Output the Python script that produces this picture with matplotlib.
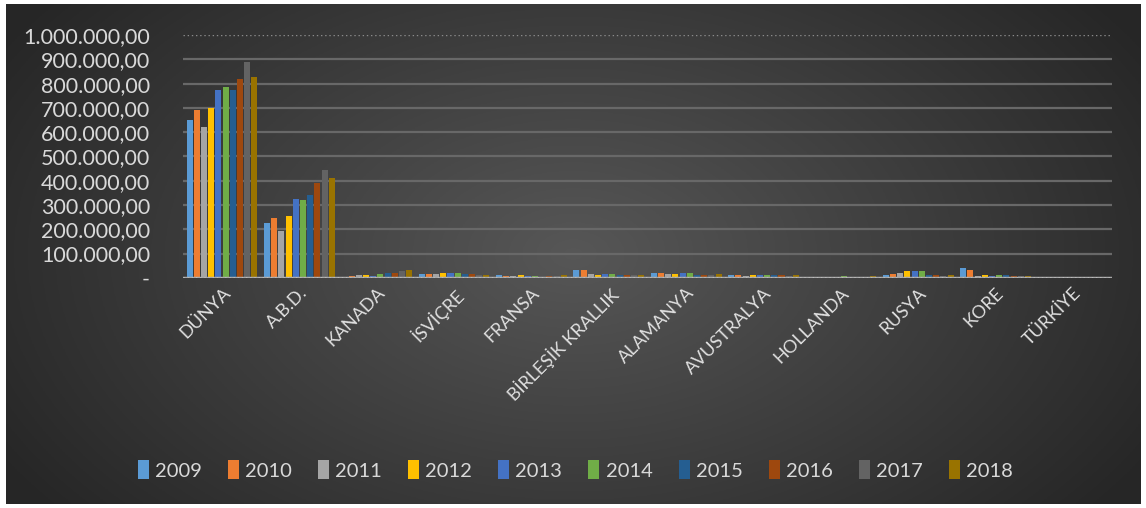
import numpy as np
import matplotlib
matplotlib.use('Agg')
import matplotlib.pyplot as plt
from matplotlib.patches import Patch
from matplotlib.ticker import FuncFormatter

plt.rcParams['font.family'] = ['Lato', 'DejaVu Sans']

countries = ['DÜNYA', 'A.B.D.', 'KANADA', 'İSVİÇRE', 'FRANSA', 'BİRLEŞİK KRALLIK',
             'ALAMANYA', 'AVUSTRALYA', 'HOLLANDA', 'RUSYA', 'KORE', 'TÜRKİYE']
years = ['2009', '2010', '2011', '2012', '2013', '2014', '2015', '2016', '2017', '2018']
colors = ['#5B9BD5', '#ED7D31', '#A5A5A5', '#FFC000', '#4472C4',
          '#70AD47', '#255E91', '#9E480E', '#636363', '#997300']

# values per year, one entry per country
v2009 = [650000, 226000, 4000, 18000, 10000, 32000, 20000, 10000, 5000, 10000, 40000, 500]
v2010 = [691000, 247000, 8000, 17000, 8000, 31000, 20000, 10000, 5000, 18000, 32000, 500]
v2011 = [621000, 193000, 12000, 16000, 8000, 15000, 18000, 8000, 4000, 20000, 8000, 500]
v2012 = [700000, 255000, 12000, 20000, 10000, 12000, 18000, 12000, 5000, 27000, 13000, 500]
v2013 = [774000, 325000, 8000, 20000, 8000, 15000, 20000, 12000, 5000, 30000, 8000, 500]
v2014 = [786000, 321000, 16000, 22000, 8000, 17000, 20000, 12000, 6000, 30000, 10000, 500]
v2015 = [774000, 342000, 20000, 15000, 5000, 12000, 12000, 12000, 5000, 12000, 10000, 500]
v2016 = [819000, 391000, 20000, 15000, 6000, 12000, 10000, 10000, 5000, 10000, 8000, 500]
v2017 = [889000, 444000, 28000, 12000, 8000, 10000, 12000, 8000, 5000, 8000, 6000, 500]
v2018 = [827000, 411000, 33000, 12000, 12000, 10000, 15000, 10000, 6000, 10000, 6000, 500]
series = [v2009, v2010, v2011, v2012, v2013, v2014, v2015, v2016, v2017, v2018]

fig = plt.figure(figsize=(11.46, 5.08), dpi=100)
fig.patch.set_facecolor('white')

# dark radial-ish background
bg = fig.add_axes([0.005, 0.008, 0.99, 0.984])
xx, yy = np.meshgrid(np.linspace(-1, 1, 400), np.linspace(-1, 1, 200))
r = np.sqrt((xx * 0.85) ** 2 + (yy * 0.6) ** 2)
img = np.clip(1 - r, 0, 1)
g = 0.15 + 0.19 * img
bg.imshow(np.dstack([g, g, g]), aspect='auto', extent=[0, 1, 0, 1])
bg.set_axis_off()

ax = fig.add_axes([0.160, 0.453, 0.810, 0.478])
ax.set_facecolor('none')

x = np.arange(len(countries))
step = 0.093
width = 0.078
for i, (vals, c) in enumerate(zip(series, colors)):
    ax.bar(x + (i - 4.5) * step, vals, width, color=c, zorder=3)

ax.set_xlim(-0.5, len(countries) - 0.5)
ax.set_ylim(0, 1000000)
ax.set_yticks(np.arange(0, 1000001, 100000))

def fmt(v, pos):
    if v == 0:
        return '-'
    return '{:,.2f}'.format(v).replace(',', 'X').replace('.', ',').replace('X', '.')

ax.yaxis.set_major_formatter(FuncFormatter(fmt))
for yv in np.arange(100000, 1000000, 100000):
    ax.axhline(yv, color='#686868', lw=1.6, zorder=1)
ax.axhline(1000000, color='#8a8a8a', lw=1.0, ls=(0, (1, 2)), zorder=1)
ax.axhline(0, color='#a8a8a8', lw=2.5, zorder=4)
ax.axhline(0, color='#ffffff', lw=1.0, ls=(0, (1, 2)), zorder=5)

for s in ax.spines.values():
    s.set_visible(False)
ax.tick_params(axis='both', length=0)
ax.tick_params(axis='y', labelsize=15.5, labelcolor='#d9d9d9', pad=24)
ax.set_xticks(x)
ax.set_xticklabels(countries, rotation=45, ha='right', rotation_mode='anchor',
                   fontsize=13, color='#e0e0e0')
ax.tick_params(axis='x', pad=5)

handles = [Patch(facecolor=c, label=y) for c, y in zip(colors, years)]
leg = fig.legend(handles=handles, loc='center', bbox_to_anchor=(0.502, 0.075), ncol=10,
                 frameon=False, fontsize=14.5, labelcolor='#d9d9d9',
                 handlelength=0.55, handleheight=1.1, handletextpad=0.3, columnspacing=1.3)

fig.savefig('out.png', dpi=100, facecolor='white')
